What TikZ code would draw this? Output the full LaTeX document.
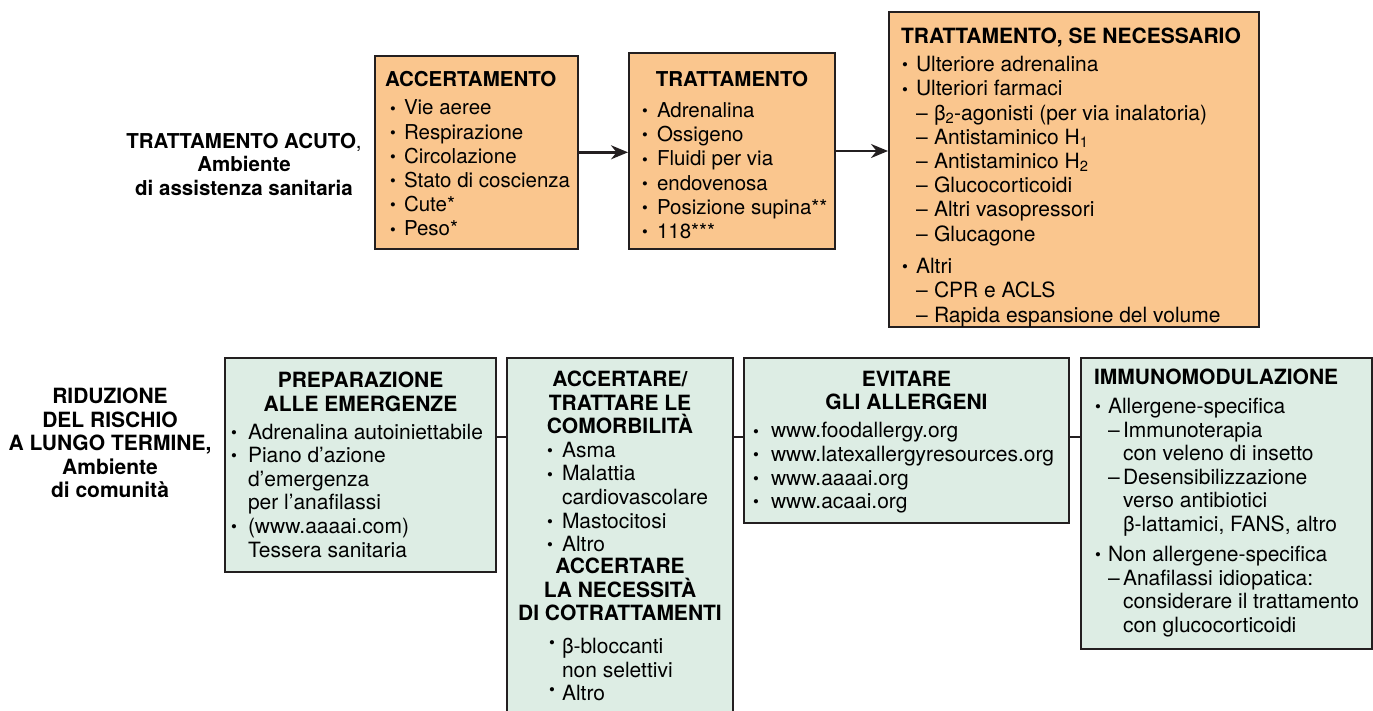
\documentclass[tikz,border=0pt]{standalone}
\usepackage{graphicx}
\usepackage{fontspec}
\setmainfont{TeX Gyre Heros}
\usetikzlibrary{arrows.meta}

\definecolor{acutefill}{RGB}{250,198,142}
\definecolor{commfill}{RGB}{221,237,228}
\definecolor{boxline}{RGB}{35,31,32}

\newlength\bulin
\newlength\txtin
\newlength\dshwd
\newcommand\smbul{\raisebox{0.8pt}{\scalebox{0.8}{\textbullet}}}
\newcommand\bul{\hspace*{\bulin}\makebox[0pt]{\smbul}\hspace*{\dimexpr\txtin-\bulin\relax}}
\newcommand\hbul{\hspace*{\bulin}\makebox[0pt]{\raisebox{4pt}{\smbul}}\hspace*{\dimexpr\txtin-\bulin\relax}}
\newcommand\cnt{\hspace*{\txtin}}
\newcommand\dsh{\hspace*{\txtin}\makebox[\dshwd][l]{\textendash}}
\newcommand\cnd{\hspace*{\dimexpr\txtin+\dshwd\relax}}

\begin{document}
\begin{tikzpicture}[x=1pt, y=1pt,
		acutebox/.style={draw=boxline, fill=acutefill, line width=2pt, anchor=north west, inner xsep=10pt, font=\fontsize{20.5}{24.2}\selectfont},
		commbox/.style={draw=boxline, fill=commfill, line width=2pt, anchor=north west, inner xsep=6pt, inner ysep=13pt, font=\fontsize{21}{23.6}\selectfont},
		setting/.style={anchor=north, align=center, inner sep=0pt},
		flow/.style={draw=boxline, line width=2.4pt, -{Stealth[length=17pt, width=14pt]}},
		link/.style={draw=boxline, line width=2pt}]

	\useasboundingbox (0,0) rectangle (1373,-710);

	\node[setting, font=\fontsize{20.5}{23.5}\selectfont] (acute) at (244,-133) {\textbf{TRATTAMENTO ACUTO},\\\textbf{Ambiente}\\\textbf{di assistenza sanitaria}};
	\node[setting, font=\fontsize{21}{23.5}\selectfont\bfseries] (community) at (110,-388) {RIDUZIONE\\DEL RISCHIO\\A LUNGO TERMINE,\\Ambiente\\di comunità};

	\node[acutebox, inner ysep=15.3pt] (acc) at (374,-55) {\parbox[t][162pt][t]{183pt}{\setlength\bulin{8pt}\setlength\txtin{19pt}%
		\textbf{ACCERTAMENTO}\\[4.3pt]
		\bul Vie aeree\\
		\bul Respirazione\\
		\bul Circolazione\\
		\bul \mbox{Stato di coscienza}\\
		\bul Cute*\\
		\bul Peso*}};

	\node[acutebox, inner xsep=6pt, inner ysep=18.3pt] (trt) at (628,-52) {\parbox[t][159.4pt][t]{194pt}{\setlength\bulin{10pt}\setlength\txtin{22pt}%
		\makebox[\linewidth]{\textbf{TRATTAMENTO}}\\[6.8pt]
		\bul Adrenalina\\
		\bul Ossigeno\\
		\bul Fluidi per via\\
		\bul endovenosa\\
		\bul \mbox{Posizione supina**}\\
		\bul 118***}};

	\node[acutebox, inner xsep=12pt, inner ysep=16pt, font=\fontsize{21}{24.2}\selectfont] (tsn) at (888,-11) {\parbox[t][283pt][t]{346pt}{\setlength\bulin{4pt}\setlength\txtin{15pt}\setlength\dshwd{18pt}%
		\textbf{TRATTAMENTO, SE NECESSARIO}\\[4pt]
		\bul Ulteriore adrenalina\\
		\bul Ulteriori farmaci\\
		\dsh β\textsubscript{2}-agonisti (per via inalatoria)\\
		\dsh Antistaminico H\textsubscript{1}\\
		\dsh Antistaminico H\textsubscript{2}\\
		\dsh Glucocorticoidi\\
		\dsh Altri vasopressori\\
		\dsh Glucagone\\[8.4pt]
		\bul Altri\\
		\dsh CPR e ACLS\\
		\dsh Rapida espansione del volume}};

	\node[commbox, inner ysep=14pt] (prep) at (224,-357) {\parbox[t][186pt][t]{259pt}{\setlength\bulin{3pt}\setlength\txtin{17pt}%
		\makebox[\linewidth]{\textbf{PREPARAZIONE}}\\
		\makebox[\linewidth]{\textbf{ALLE EMERGENZE}}\\[4.4pt]
		\bul Adrenalina autoiniettabile\\
		\bul Piano d’azione\\
		\cnt d’emergenza\\
		\cnt per l’anafilassi\\
		\bul (www.aaaai.com)\\
		\cnt Tessera sanitaria}};

	\node[commbox] (comorb) at (506,-357) {\parbox[t][344pt][t]{214pt}{\setlength\bulin{37pt}\setlength\txtin{49pt}%
		\makebox[\linewidth]{\textbf{ACCERTARE/}}\\
		\makebox[\linewidth]{\textbf{TRATTARE LE}}\\
		\makebox[\linewidth]{\textbf{COMORBILITÀ}}\\
		\bul Asma\\
		\bul Malattia\\
		\cnt cardiovascolare\\
		\bul Mastocitosi\\
		\bul Altro\\[-1.8pt]
		\makebox[\linewidth]{\textbf{ACCERTARE}}\\
		\makebox[\linewidth]{\textbf{LA NECESSITÀ}}\\
		\makebox[\linewidth]{\textbf{DI COTRATTAMENTI}}\\[9.2pt]
		\setlength\bulin{39pt}%
		\hbul β-bloccanti\\
		\cnt non selettivi\\
		\hbul Altro}};

	\node[commbox] (avoid) at (743,-357) {\parbox[t][139pt][t]{313pt}{\setlength\bulin{6pt}\setlength\txtin{21pt}%
		\makebox[\linewidth]{\textbf{EVITARE}}\\
		\makebox[\linewidth]{\textbf{GLI ALLERGENI}}\\[4.4pt]
		\bul www.foodallergy.org\\
		\bul www.latexallergyresources.org\\
		\bul www.aaaai.org\\
		\bul www.acaai.org}};

	\node[commbox, inner xsep=13pt, inner ysep=11pt] (immuno) at (1080,-357) {\parbox[t][269pt][t]{265pt}{\setlength\bulin{4pt}\setlength\txtin{14pt}\setlength\dshwd{15pt}%
		\textbf{IMMUNOMODULAZIONE}\\[5.4pt]
		\bul Allergene-specifica\\
		\dsh Immunoterapia\\
		\cnd con veleno di insetto\\
		\dsh Desensibilizzazione\\
		\cnd verso antibiotici\\
		\cnd β-lattamici, FANS, altro\\[6.4pt]
		\bul Non allergene-specifica\\
		\dsh Anafilassi idiopatica:\\
		\cnd considerare il trattamento\\
		\cnd con glucocorticoidi}};

	\coordinate (row2) at (0,-437);

	\draw[flow] (acc.east) -- (acc.east -| trt.west);
	\draw[flow] (trt.east) -- (trt.east -| tsn.west);
	\draw[link] (prep.east |- row2) -- (comorb.west |- row2);
	\draw[link] (comorb.east |- row2) -- (avoid.west |- row2);
	\draw[link] (avoid.east |- row2) -- (immuno.west |- row2);
\end{tikzpicture}
\end{document}
